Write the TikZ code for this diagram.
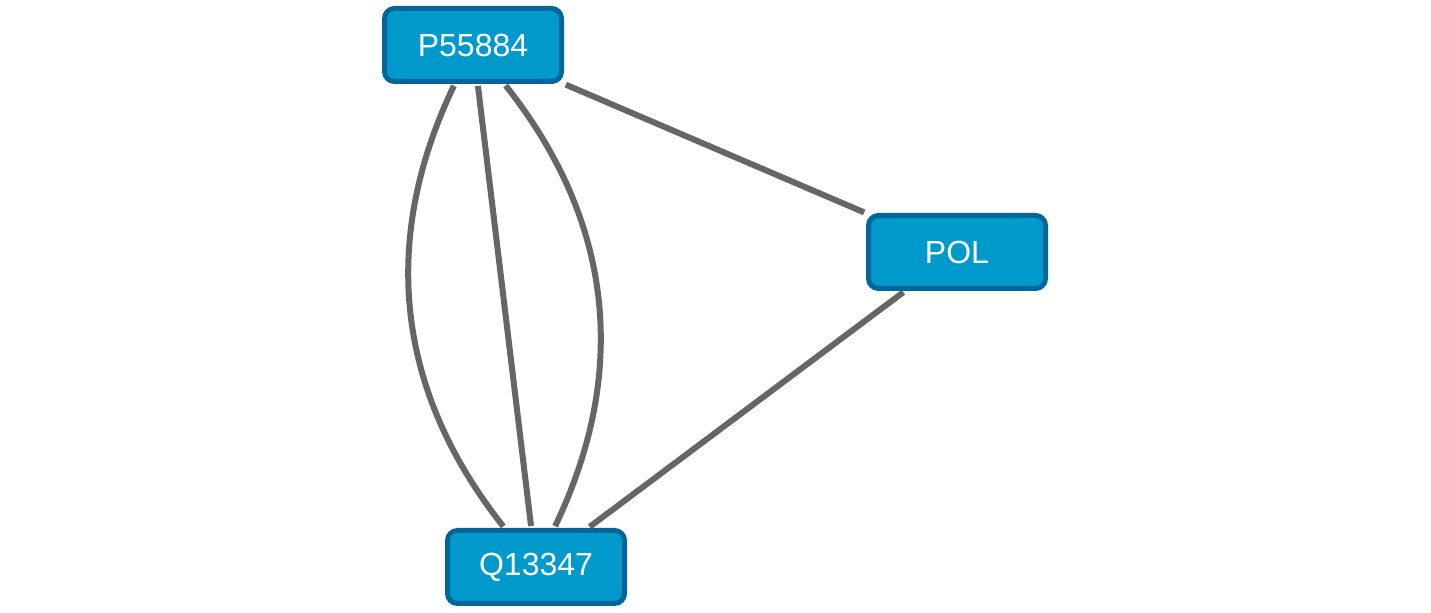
\documentclass[tikz,border=0pt]{standalone}
\usepackage{fontspec}
\setsansfont{Liberation Sans}
\usetikzlibrary{positioning}
\definecolor{protfill}{HTML}{0099CC}
\definecolor{protline}{HTML}{00669A}
\definecolor{linkgray}{HTML}{666666}
\tikzset{
    every node/.style={
        font=\sffamily\fontsize{16}{19}\selectfont},
    protein/.style={
        rectangle,
        rounded corners=5pt,
        draw=protline,
        line width=2.5pt,
        fill=protfill,
        text=white,
        minimum width=88.5pt,
        minimum height=36.5pt},
    every edge/.style={
        draw,
        linkgray,
        line width=3pt,
        shorten <=1pt,
        shorten >=1pt}}

\begin{document}
\begin{tikzpicture}[x=0.5pt,y=-0.5pt]
        \useasboundingbox (0,0) rectangle (1431,613);
        \node[protein] (P55884) at (473,45) {P55884};
        \node[protein] (POL) at (957,252) {POL};
        \node[protein] (Q13347) at (536,567) {Q13347};

        \draw (P55884) edge[bend right=32] (Q13347);
        \draw (P55884) edge[] (Q13347);
        \draw (P55884) edge[bend left=32] (Q13347);

        \draw (P55884) edge[] (POL);
        \draw (POL) edge[] (Q13347);
    \end{tikzpicture}
\end{document}
